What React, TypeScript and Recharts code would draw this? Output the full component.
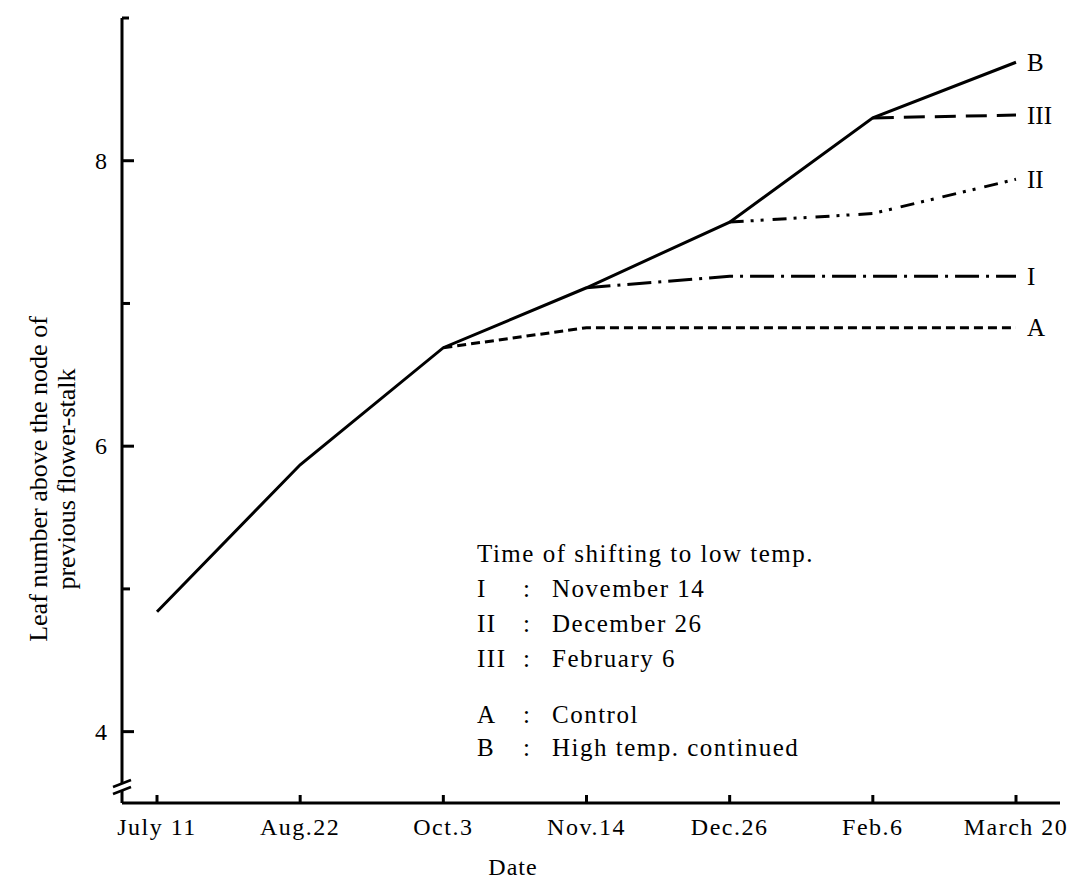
import { LineChart, Line, XAxis, YAxis, LabelList } from 'recharts';

const dates = ['July 11', 'Aug.22', 'Oct.3', 'Nov.14', 'Dec.26', 'Feb.6', 'March 20'];
const seriesB = [4.84, 5.87, 6.69, 7.11, 7.57, 8.3, 8.69];
const seriesA = [null, null, 6.69, 6.83, 6.83, 6.83, 6.83];
const seriesI = [null, null, null, 7.11, 7.19, 7.19, 7.19];
const seriesII = [null, null, null, null, 7.57, 7.63, 7.87];
const seriesIII = [null, null, null, null, null, 8.3, 8.32];
const yTicks = [4, 5, 6, 7, 8, 9];
const yLabelled = [4, 6, 8];

const data = dates.map((d, i) => ({
  date: d,
  B: seriesB[i],
  A: seriesA[i],
  I: seriesI[i],
  II: seriesII[i],
  III: seriesIII[i],
}));

const FONT = '"Liberation Serif", "Times New Roman", serif';

const YTick = (props: any) => {
  const { x, y, payload } = props;
  const v = payload.value;
  const major = yLabelled.includes(v);
  const len = v === 9 ? 7 : major ? 12 : 8;
  return (
    <g>
      <line x1={x} y1={y} x2={x + len} y2={y} stroke="#000" strokeWidth={3} />
      {major && (
        <text x={x - 15} y={y} textAnchor="end" dominantBaseline="central"
          fontFamily={FONT} fontSize={24} fill="#000">{v}</text>
      )}
    </g>
  );
};

const XTick = (props: any) => {
  const { x, y, payload } = props;
  return (
    <g>
      <line x1={x} y1={y} x2={x} y2={y - 8} stroke="#000" strokeWidth={3} />
      <text x={x} y={y + 24} textAnchor="middle" dominantBaseline="central"
        fontFamily={FONT} fontSize={24} letterSpacing={1.5} fill="#000">{payload.value}</text>
    </g>
  );
};

const endLabel = (name: string) => (props: any) => {
  const { x, y, index } = props;
  if (index !== dates.length - 1) return null;
  return (
    <text x={x + 11} y={y} dominantBaseline="central" fontFamily={FONT}
      fontSize={25} fill="#000">{name}</text>
  );
};

const legendRows = [
  ['I', 'November 14'],
  ['II', 'December 26'],
  ['III', 'February 6'],
];
const legendRows2 = [
  ['A', 'Control'],
  ['B', 'High temp. continued'],
];

const App = () => {
  const txt: any = { position: 'absolute', fontFamily: FONT, fontSize: 25, lineHeight: '26px', letterSpacing: 1.5, whiteSpace: 'nowrap', color: '#000' };
  const row = (r: string[], top: number) => (
    <div key={r[0]} style={{ ...txt, left: 477, top }}>
      <span style={{ display: 'inline-block', width: 46 }}>{r[0]}</span>
      <span style={{ display: 'inline-block', width: 29 }}>:</span>
      <span>{r[1]}</span>
    </div>
  );
  return (
    <div style={{ position: 'absolute', left: 0, top: 0, width: 1089, height: 887, background: '#fff' }}>
      <LineChart width={1089} height={887} data={data}
        margin={{ top: 18, right: 29, bottom: 0, left: 0 }}>
        <XAxis dataKey="date" type="category" height={84} padding={{ left: 35, right: 44 }}
          axisLine={{ stroke: '#000', strokeWidth: 3 }} tickLine={false} tickSize={0} tickMargin={0}
          tick={<XTick />} interval={0} />
        <YAxis type="number" domain={[3.5, 9]} ticks={yTicks} width={122}
          axisLine={{ stroke: '#000', strokeWidth: 3 }} tickLine={false} tickSize={0} tickMargin={0}
          tick={<YTick />} allowDataOverflow />
        <Line dataKey="A" type="linear" stroke="#000" strokeWidth={3} strokeDasharray="9 5"
          dot={false} isAnimationActive={false}>
          <LabelList dataKey="A" content={endLabel('A')} />
        </Line>
        <Line dataKey="I" type="linear" stroke="#000" strokeWidth={3} strokeDasharray="24 7 3 7"
          dot={false} isAnimationActive={false}>
          <LabelList dataKey="I" content={endLabel('I')} />
        </Line>
        <Line dataKey="II" type="linear" stroke="#000" strokeWidth={3} strokeDasharray="14 7 3 7 3 9"
          dot={false} isAnimationActive={false}>
          <LabelList dataKey="II" content={endLabel('II')} />
        </Line>
        <Line dataKey="III" type="linear" stroke="#000" strokeWidth={3} strokeDasharray="21 10"
          dot={false} isAnimationActive={false}>
          <LabelList dataKey="III" content={endLabel('III')} />
        </Line>
        <Line dataKey="B" type="linear" stroke="#000" strokeWidth={3}
          dot={false} isAnimationActive={false}>
          <LabelList dataKey="B" content={endLabel('B')} />
        </Line>
      </LineChart>

      {/* axis break marks and axis titles */}
      <svg style={{ position: 'absolute', left: 0, top: 0 }} width={1089} height={887}>
        <rect x={112} y={783} width={20} height={7} fill="#fff" />
        <line x1={113} y1={787} x2={131} y2={780} stroke="#000" strokeWidth={2.5} />
        <line x1={113} y1={794} x2={131} y2={787} stroke="#000" strokeWidth={2.5} />
        <text transform="translate(38,479) rotate(-90)" textAnchor="middle" dominantBaseline="central"
          fontFamily={FONT} fontSize={26} fill="#000">Leaf number above the node of</text>
        <text transform="translate(66,479) rotate(-90)" textAnchor="middle" dominantBaseline="central"
          fontFamily={FONT} fontSize={26} fill="#000">previous flower-stalk</text>
        <text x={513} y={867} textAnchor="middle" dominantBaseline="central"
          fontFamily={FONT} fontSize={24} letterSpacing={1} fill="#000">Date</text>
      </svg>

      <div style={{ ...txt, left: 477, top: 541 }}>Time of shifting to low temp.</div>
      {legendRows.map((r, i) => row(r, 576 + i * 35))}
      {legendRows2.map((r, i) => row(r, 702 + i * 33))}
    </div>
  );
};

export default App;
